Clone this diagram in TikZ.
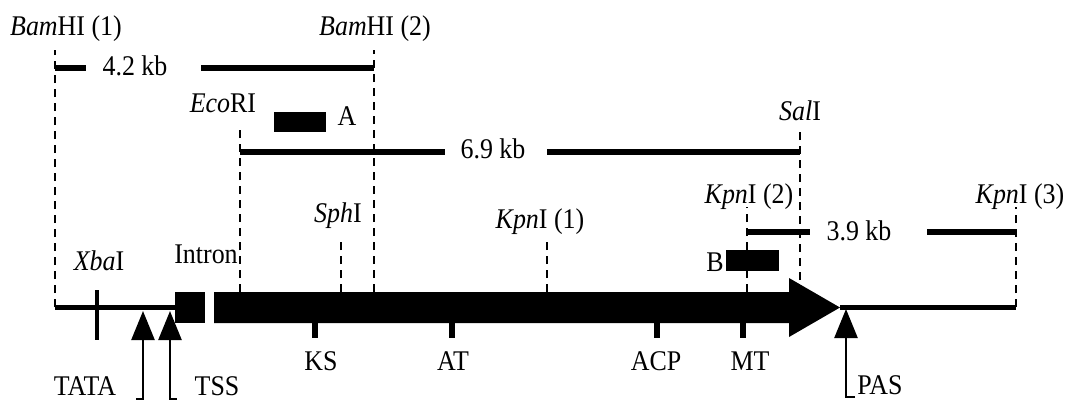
\documentclass[tikz,border=0pt]{standalone}
\usepackage{fontspec}
\setmainfont{Liberation Serif}[FakeStretch=0.91]
\usetikzlibrary{arrows.meta, positioning, calc}

\begin{document}
\begin{tikzpicture}[
  x=1pt, y=-1pt,
  every node/.style={font=\fontsize{28.5}{32}\selectfont, inner sep=0pt, anchor=base},
  site/.style={line width=2pt, dash pattern=on 8pt off 6pt},
  bar/.style={line width=6pt},
  mark tick/.style={line width=5.5pt},
  probe/.style={fill=black},
  up/.style={line width=2.5pt, -{Triangle[width=23pt,length=29pt]}}
]
\useasboundingbox (0,0) rectangle (1065,402);

\coordinate (bam1) at (55,307);
\coordinate (bam2) at (374,292);
\coordinate (eco) at (240,292);
\coordinate (sph) at (341,292);
\coordinate (kpn1) at (547,292);
\coordinate (kpn2) at (747,292);
\coordinate (sal) at (800,280);
\coordinate (kpn3) at (1016,307);

\node (bam1lbl) at (66,35) {\textit{Bam}HI (1)};
\node (bam2lbl) at (375,35) {\textit{Bam}HI (2)};
\node (ecolbl) at (223,112) {\textit{Eco}RI};
\node (sallbl) at (800,120) {\textit{Sal}I};
\node (kpn2lbl) at (749,203) {\textit{Kpn}I (2)};
\node (kpn3lbl) at (1020,203) {\textit{Kpn}I (3)};
\node (kpn1lbl) at (540,228) {\textit{Kpn}I (1)};
\node (sphlbl) at (338,222) {\textit{Sph}I};
\node (xbalbl) at (99,270) {\textit{Xba}I};
\node (intron) at (206,263) {Intron};

\draw[site] (bam1) -- ++(0,-257);
\draw[site] (bam2) -- ++(0,-242);
\draw[site] (eco) -- ++(0,-162);
\draw[site] (sph) -- ++(0,-55);
\draw[site] (kpn1) -- ++(0,-55);
\draw[site] (kpn2) -- ++(0,-85);
\draw[site] (sal) -- ++(0,-150);
\draw[site] (kpn3) -- ++(0,-100);

\node (kb42) at (135,75) {4.2 kb};
\draw[bar] (55,68) -- (86,68);
\draw[bar] (201,68) -- (374,68);
\node (kb69) at (493,158) {6.9 kb};
\draw[bar] (240,152) -- (445,152);
\draw[bar] (547,152) -- (800,152);
\node (kb39) at (859,240) {3.9 kb};
\draw[bar] (747,232) -- (810,232);
\draw[bar] (927,232) -- (1016,232);

\fill[probe] (274,112) rectangle (326,132);
\node (alabel) at (347,125) {A};
\fill[probe] (726,250) rectangle (779,271);
\node (blabel) at (715,271) {B};

\draw[line width=5pt] (bam1) -- (175,307);
\draw[line width=5pt] (840,307) -- (kpn3);
\draw[line width=4.5pt] (97,290) -- (97,340);
\fill (175,292) rectangle (205,323);
\fill (214,292) -- (789,292) -- (789,278) -- (840,307.5) -- (789,337) -- (789,323) -- (214,323) -- cycle;

\draw[mark tick] (315,323) -- (315,338);
\draw[mark tick] (452,323) -- (452,338);
\draw[mark tick] (657,323) -- (657,338);
\draw[mark tick] (743,323) -- (743,338);
\node (ks) at (321,370) {KS};
\node (at) at (453,370) {AT};
\node (acp) at (656,370) {ACP};
\node (mt) at (750,370) {MT};

\draw[up] (136,399) -- (143,399) -- (143,311);
\draw[up] (177,399) -- (170,399) -- (170,311);
\draw[up] (855,397) -- (846,397) -- (846,309);
\node (tata) at (85,395) {TATA};
\node (tss) at (217,395) {TSS};
\node (pas) at (880,394) {PAS};

\end{tikzpicture}
\end{document}
